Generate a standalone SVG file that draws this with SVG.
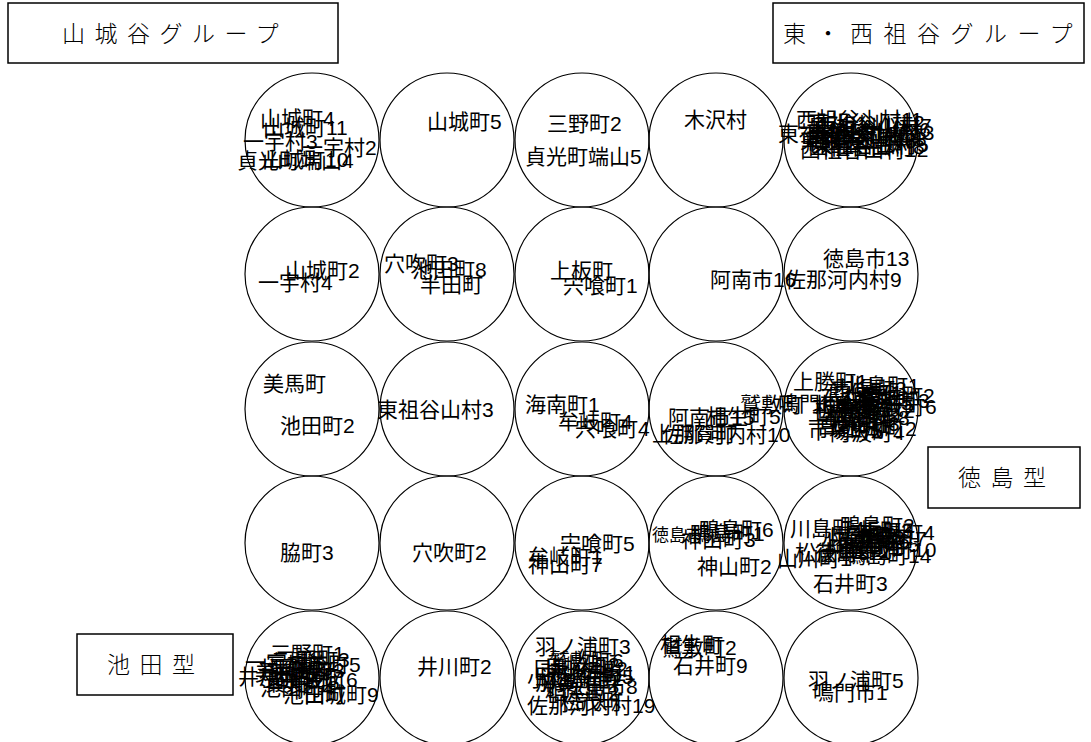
<svg xmlns="http://www.w3.org/2000/svg" width="1091" height="742" viewBox="0 0 1091 742">
<style>
.c{fill:none;stroke:#000;stroke-width:1.2}
.l{font-family:"Liberation Sans","Noto Sans CJK JP",sans-serif;font-size:21px;fill:#000}
.b{fill:#fff;stroke:#000;stroke-width:1.5}
.bt{font-family:"Noto Sans CJK JP",sans-serif;font-size:23px;letter-spacing:9.5px;fill:#000;font-weight:300}
</style>
<rect width="1091" height="742" fill="#fff"/>
<g id="grid">
<circle class="c" cx="312" cy="140" r="67"/><circle class="c" cx="447" cy="140" r="67"/><circle class="c" cx="582" cy="140" r="67"/><circle class="c" cx="716" cy="140" r="67"/><circle class="c" cx="851" cy="140" r="67"/>
<circle class="c" cx="312" cy="274" r="67"/><circle class="c" cx="447" cy="274" r="67"/><circle class="c" cx="582" cy="274" r="67"/><circle class="c" cx="716" cy="274" r="67"/><circle class="c" cx="851" cy="274" r="67"/>
<circle class="c" cx="312" cy="409" r="67"/><circle class="c" cx="447" cy="409" r="67"/><circle class="c" cx="582" cy="409" r="67"/><circle class="c" cx="716" cy="409" r="67"/><circle class="c" cx="851" cy="409" r="67"/>
<circle class="c" cx="312" cy="543" r="67"/><circle class="c" cx="447" cy="543" r="67"/><circle class="c" cx="582" cy="543" r="67"/><circle class="c" cx="716" cy="543" r="67"/><circle class="c" cx="851" cy="543" r="67"/>
<circle class="c" cx="312" cy="678" r="67"/><circle class="c" cx="447" cy="678" r="67"/><circle class="c" cx="582" cy="678" r="67"/><circle class="c" cx="716" cy="678" r="67"/><circle class="c" cx="851" cy="678" r="67"/>
</g>
<g id="labels" class="l">
<text x="260" y="126">山城町4</text><text x="263" y="135">山城町11</text><text x="243" y="149">一宇村3</text><text x="302" y="155">一宇村2</text><text x="262" y="167">山城町10</text><text x="237" y="168">貞光町端山4</text>
<text x="427" y="129">山城町5</text>
<text x="547" y="131">三野町2</text><text x="525" y="164">貞光町端山5</text>
<text x="684" y="127">木沢村</text>
<text x="796" y="127">西祖谷山村11</text><text x="778" y="141">東祖谷山村4</text><text x="806" y="140">東祖谷山村13</text><text x="815" y="133">西祖谷山村7</text><text x="800" y="148">東祖谷山村8</text><text x="800" y="157">西祖谷山村12</text><text x="812" y="152">東祖谷山村5</text><text x="805" y="143">西祖谷山村9</text><text x="814" y="137">東祖谷山村6</text><text x="810" y="146">西祖谷山村3</text><text x="808" y="130">東祖谷山村2</text><text x="808" y="154">西祖谷山村8</text>
<text x="285" y="278">山城町2</text><text x="258" y="290">一宇村4</text>
<text x="384" y="271">穴吹町3</text><text x="412" y="277">池田町8</text><text x="420" y="292">半田町</text>
<text x="550" y="278">上板町</text><text x="563" y="293">宍喰町1</text>
<text x="710" y="287">阿南市16</text>
<text x="823" y="266">徳島市13</text><text x="785" y="287">佐那河内村9</text>
<text x="263" y="391">美馬町</text><text x="280" y="433">池田町2</text>
<text x="377" y="417">東祖谷山村3</text>
<text x="525" y="412">海南町1</text><text x="558" y="429">牟岐町4</text><text x="575" y="436">宍喰町4</text>
<text x="668" y="425">阿南市15</text><text x="706" y="424">相生町5</text><text x="740" y="412">鷲敷町</text><text x="652" y="441">上那賀町</text><text x="662" y="442">佐那河内村10</text>
<text x="793" y="389">上勝町1</text><text x="778" y="411">鳴門市2</text><text x="845" y="393">北島町1</text><text x="860" y="403">藍住町2</text><text x="855" y="408">板野町3</text><text x="862" y="414">松茂町6</text><text x="808" y="420">上板町2</text><text x="818" y="426">吉野町4</text><text x="825" y="431">土成町3</text><text x="808" y="438">市場町5</text><text x="830" y="440">阿波町4</text><text x="840" y="418">鴨島町2</text><text x="820" y="405">石井町1</text><text x="835" y="425">鳴門市8</text><text x="812" y="412">北島町2</text><text x="828" y="400">藍住町1</text><text x="815" y="416">板野町7</text><text x="826" y="422">松茂町2</text><text x="838" y="410">上板町5</text><text x="816" y="433">吉野町1</text><text x="842" y="436">土成町2</text><text x="832" y="396">市場町3</text>
<text x="280" y="560">脇町3</text>
<text x="412" y="560">穴吹町2</text>
<text x="560" y="551">宍喰町5</text><text x="528" y="564">牟岐町1</text><text x="528" y="572">神山町7</text>
<text x="652" y="541" style="font-size:17px">徳島市5</text><text x="699" y="537">鴨島町6</text><text x="681" y="547">神山町3</text><text x="690" y="541">鴨島町1</text><text x="697" y="574">神山町2</text>
<text x="790" y="536">川島町4</text><text x="777" y="566">山川町1</text><text x="795" y="560">松茂町3</text><text x="813" y="591">石井町3</text><text x="840" y="533">鴨島町2</text><text x="860" y="540">市場町4</text><text x="830" y="545">阿波町3</text><text x="820" y="550">上板町9</text><text x="845" y="552">吉野町5</text><text x="850" y="557">土成町10</text><text x="845" y="563">鴨島町14</text><text x="815" y="560">徳島市2</text><text x="822" y="542">川島町2</text><text x="835" y="548">石井町6</text><text x="828" y="556">阿波町1</text><text x="852" y="546">市場町7</text><text x="838" y="538">上板町3</text>
<text x="270" y="661">三野町1</text><text x="265" y="672">三加茂町5</text><text x="245" y="670">一宇村2</text><text x="238" y="684">井川町1</text><text x="262" y="687">三加茂町6</text><text x="255" y="680">美馬町1</text><text x="270" y="678">半田町3</text><text x="265" y="690">貞光町5</text><text x="260" y="695">池田町4</text><text x="283" y="702">池田町</text><text x="304" y="702">山城町9</text><text x="275" y="667">三野町3</text><text x="258" y="676">井川町3</text><text x="268" y="684">池田町7</text>
<text x="417" y="674">井川町2</text>
<text x="535" y="654">羽ノ浦町3</text><text x="549" y="668">鷲敷町6</text><text x="532" y="676">日和佐町2</text><text x="527" y="686">小松島市2</text><text x="535" y="690">那賀川町</text><text x="540" y="680">羽ノ浦町1</text><text x="560" y="709">松茂町</text><text x="545" y="700">相生町2</text><text x="527" y="713">佐那河内村19</text><text x="545" y="672">由岐町2</text><text x="538" y="684">日和佐町5</text><text x="542" y="694">小松島市8</text>
<text x="662" y="655">鷲敷町2</text><text x="660" y="652">相生町</text><text x="673" y="673">石井町9</text>
<text x="808" y="688">羽ノ浦町5</text><text x="813" y="700">鳴門市1</text>
</g>
<g id="box1"><rect class="b" x="8" y="3" width="330" height="60"/><text class="bt" x="62" y="42">山城谷グループ</text></g>
<g id="box2"><rect class="b" x="773" y="3" width="311" height="60"/><text class="bt" x="783" y="42" style="letter-spacing:10.5px">東・西祖谷グループ</text></g>
<g id="box3"><rect class="b" x="928" y="447" width="152" height="61"/><text class="bt" x="958" y="486">徳島型</text></g>
<g id="box4"><rect class="b" x="77" y="634" width="156" height="61"/><text class="bt" x="107" y="673">池田型</text></g>
</svg>
